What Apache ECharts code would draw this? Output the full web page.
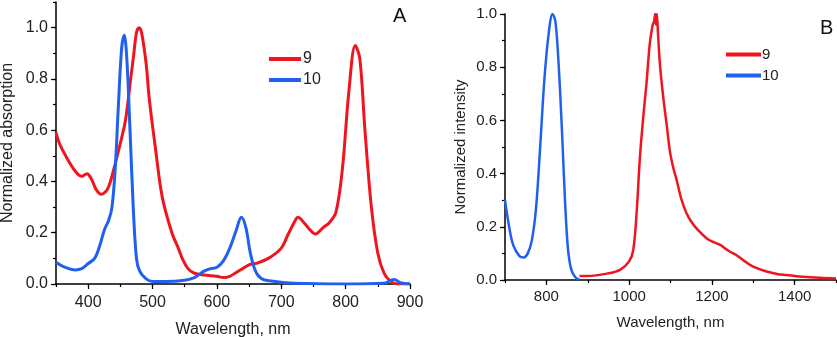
<!DOCTYPE html>
<html>
<head>
<meta charset="utf-8">
<script src="https://cdn.jsdelivr.net/npm/echarts@6/dist/echarts.min.js"></script>
<style>
  html, body { margin: 0; padding: 0; background: #fff; }
  #chart { width: 837px; height: 337px; }
</style>
</head>
<body>
<div id="chart"></div>
<script>
// Panel A: absorption
const wlA9 = [350, 355, 365, 380, 390, 398, 405, 412, 420, 430, 440, 450, 458, 466, 471, 475, 479, 483, 490, 495, 505, 515, 530, 540, 547, 555, 565, 580, 600, 610, 620, 630, 640, 650, 660, 680, 700, 710, 720, 726, 735, 745, 753, 765, 775, 785, 795, 805, 815, 822, 830, 840, 850, 860, 870, 880, 900]
const absA9 = [0.59, 0.55, 0.50, 0.44, 0.42, 0.43, 0.41, 0.37, 0.35, 0.37, 0.45, 0.55, 0.64, 0.80, 0.90, 0.98, 1.00, 0.98, 0.86, 0.72, 0.52, 0.34, 0.20, 0.14, 0.095, 0.06, 0.042, 0.035, 0.03, 0.025, 0.03, 0.045, 0.06, 0.075, 0.08, 0.10, 0.14, 0.19, 0.24, 0.26, 0.24, 0.21, 0.195, 0.22, 0.24, 0.28, 0.45, 0.75, 0.93, 0.88, 0.60, 0.30, 0.12, 0.04, 0.01, 0.0, 0.0]
const wlA10 = [350, 360, 380, 390, 400, 410, 418, 425, 432, 437, 442, 447, 452, 456, 460, 465, 470, 475, 480, 490, 500, 520, 550, 565, 580, 590, 600, 610, 620, 630, 638, 645, 652, 660, 670, 690, 720, 800, 860, 875, 885, 900]
const absA10 = [0.085, 0.07, 0.055, 0.06, 0.08, 0.10, 0.15, 0.21, 0.25, 0.30, 0.45, 0.70, 0.92, 0.97, 0.88, 0.60, 0.30, 0.10, 0.05, 0.02, 0.01, 0.01, 0.015, 0.025, 0.05, 0.06, 0.065, 0.09, 0.14, 0.21, 0.26, 0.22, 0.12, 0.05, 0.02, 0.01, 0.003, 0.0, 0.003, 0.018, 0.005, 0.0]

// Panel B: emission
const wlB9 = [880, 900, 950, 978, 1000, 1010, 1018, 1026, 1034, 1042, 1050, 1057, 1060, 1063, 1065, 1067, 1070, 1075, 1083, 1091, 1099, 1107, 1115, 1127, 1139, 1150, 1165, 1187, 1200, 1219, 1240, 1259, 1280, 1300, 1330, 1360, 1380, 1420, 1460, 1500]
const intB9 = [0.015, 0.015, 0.025, 0.038, 0.07, 0.113, 0.25, 0.46, 0.61, 0.74, 0.89, 0.96, 0.97, 1.0, 0.96, 1.0, 0.92, 0.80, 0.68, 0.58, 0.48, 0.42, 0.375, 0.30, 0.25, 0.22, 0.19, 0.157, 0.145, 0.133, 0.11, 0.094, 0.07, 0.05, 0.033, 0.022, 0.019, 0.012, 0.008, 0.006]
const wlB10 = [700, 710, 720, 735, 745, 755, 765, 775, 785, 795, 805, 815, 822, 830, 838, 845, 852, 860, 870, 880]
const intB10 = [0.30, 0.20, 0.13, 0.09, 0.085, 0.10, 0.15, 0.27, 0.50, 0.75, 0.92, 1.0, 0.97, 0.80, 0.55, 0.30, 0.12, 0.04, 0.01, 0.0]

// tick labels
const ticksXA = [400, 500, 600, 700, 800, 900]
const ticksXB = [800, 1000, 1200, 1400]
const ticksY = [0, 0.2, 0.4, 0.6, 0.8, 1.0]

const seriesNames = ['9', '10']
const RED = '#f0141e'
const BLUE = '#2060f0'
const FONT = 'Liberation Sans, Arial, sans-serif'

const pairs = (xs, ys) => xs.map((x, i) => [x, ys[i]])
const tickLine = { color: '#000', width: 1.2 }

// main axis: line, long ticks and labels at given values
function xMain(gridIndex, min, max, step, ticks, fontSize, margin, nameGap) {
  return {
    type: 'value', gridIndex, min, max, interval: step, position: 'bottom',
    name: 'Wavelength, nm', nameLocation: 'middle', nameGap,
    nameTextStyle: { color: '#222', fontSize, fontFamily: FONT },
    axisLine: { show: true, onZero: false, lineStyle: { color: '#000', width: 1.5 } },
    axisTick: { show: true, inside: false, length: 5, lineStyle: tickLine, customValues: ticks },
    axisLabel: { color: '#222', fontSize, fontFamily: FONT, margin, customValues: ticks, formatter: v => String(v) },
    splitLine: { show: false }
  }
}
// overlay axis: only the short ticks
function xMinor(gridIndex, min, max, step) {
  return {
    type: 'value', gridIndex, min, max, interval: step, position: 'bottom',
    axisLine: { show: false, onZero: false },
    axisTick: { show: true, inside: false, length: 3, lineStyle: tickLine },
    axisLabel: { show: false }, splitLine: { show: false }
  }
}
function yMain(gridIndex, max, name, fontSize, nameGap) {
  return {
    type: 'value', gridIndex, min: 0, max, interval: 0.1, position: 'left',
    name, nameLocation: 'middle', nameGap,
    nameTextStyle: { color: '#222', fontSize, fontFamily: FONT },
    axisLine: { show: true, onZero: false, lineStyle: { color: '#000', width: 1.5 } },
    axisTick: { show: true, inside: false, length: 5, lineStyle: tickLine, customValues: ticksY },
    axisLabel: { color: '#222', fontSize, fontFamily: FONT, margin: 8, customValues: ticksY, formatter: v => v.toFixed(1) },
    splitLine: { show: false }
  }
}
function yMinor(gridIndex, max) {
  return {
    type: 'value', gridIndex, min: 0, max, interval: 0.1, position: 'left',
    axisLine: { show: false, onZero: false },
    axisTick: { show: true, inside: false, length: 3, lineStyle: tickLine },
    axisLabel: { show: false }, splitLine: { show: false }
  }
}

function lineSeries(name, data, color, axisIdx, width) {
  return {
    name, type: 'line', xAxisIndex: axisIdx, yAxisIndex: axisIdx,
    data, smooth: 0.35, showSymbol: false, symbol: 'none',
    lineStyle: { color, width }, itemStyle: { color },
    clip: true
  }
}

const chart = echarts.init(document.getElementById('chart'))
chart.setOption({
  animation: false,
  backgroundColor: '#fff',
  textStyle: { fontFamily: FONT },
  title: [
    { text: 'A', left: 388, top: 1, textStyle: { fontSize: 20, fontWeight: 'normal', color: '#111', fontFamily: FONT } },
    { text: 'B', left: 815, top: 13, textStyle: { fontSize: 20, fontWeight: 'normal', color: '#111', fontFamily: FONT } }
  ],
  grid: [
    { left: 56, right: 427, top: 2, bottom: 53, outerBoundsMode: 'none' },
    { left: 505, right: 1, top: 14, bottom: 57, outerBoundsMode: 'none' }
  ],
  legend: [
    {
      data: seriesNames, orient: 'vertical', left: 264, top: 46,
      icon: 'rect', itemWidth: 32, itemHeight: 4, itemGap: 5,
      textStyle: { fontSize: 16, color: '#222', fontFamily: FONT, padding: [0, 0, 0, -3] },
      selectedMode: false
    },
    {
      data: seriesNames.map(n => n + ' '), orient: 'vertical', left: 721, top: 42,
      icon: 'rect', itemWidth: 35, itemHeight: 4, itemGap: 6,
      formatter: n => n.trim(),
      textStyle: { fontSize: 15, color: '#222', fontFamily: FONT, padding: [0, 0, 0, -4] },
      selectedMode: false
    }
  ],
  xAxis: [
    xMain(0, 350, 900, 50, ticksXA, 16, 11, 38),
    xMain(1, 700, 1500, 100, ticksXB, 15, 9, 35),
    xMinor(0, 350, 900, 50),
    xMinor(1, 700, 1500, 100)
  ],
  yAxis: [
    yMain(0, 1.1, 'Normalized absorption', 16, 40),
    yMain(1, 1.0, 'Normalized intensity', 15, 37),
    yMinor(0, 1.1),
    yMinor(1, 1.0)
  ],
  series: [
    lineSeries('9', pairs(wlA9, absA9), RED, 0, 3),
    lineSeries('10', pairs(wlA10, absA10), BLUE, 0, 3),
    lineSeries('9 ', pairs(wlB9, intB9), RED, 1, 2.5),
    lineSeries('10 ', pairs(wlB10, intB10), BLUE, 1, 2.5)
  ]
})
</script>
</body>
</html>
